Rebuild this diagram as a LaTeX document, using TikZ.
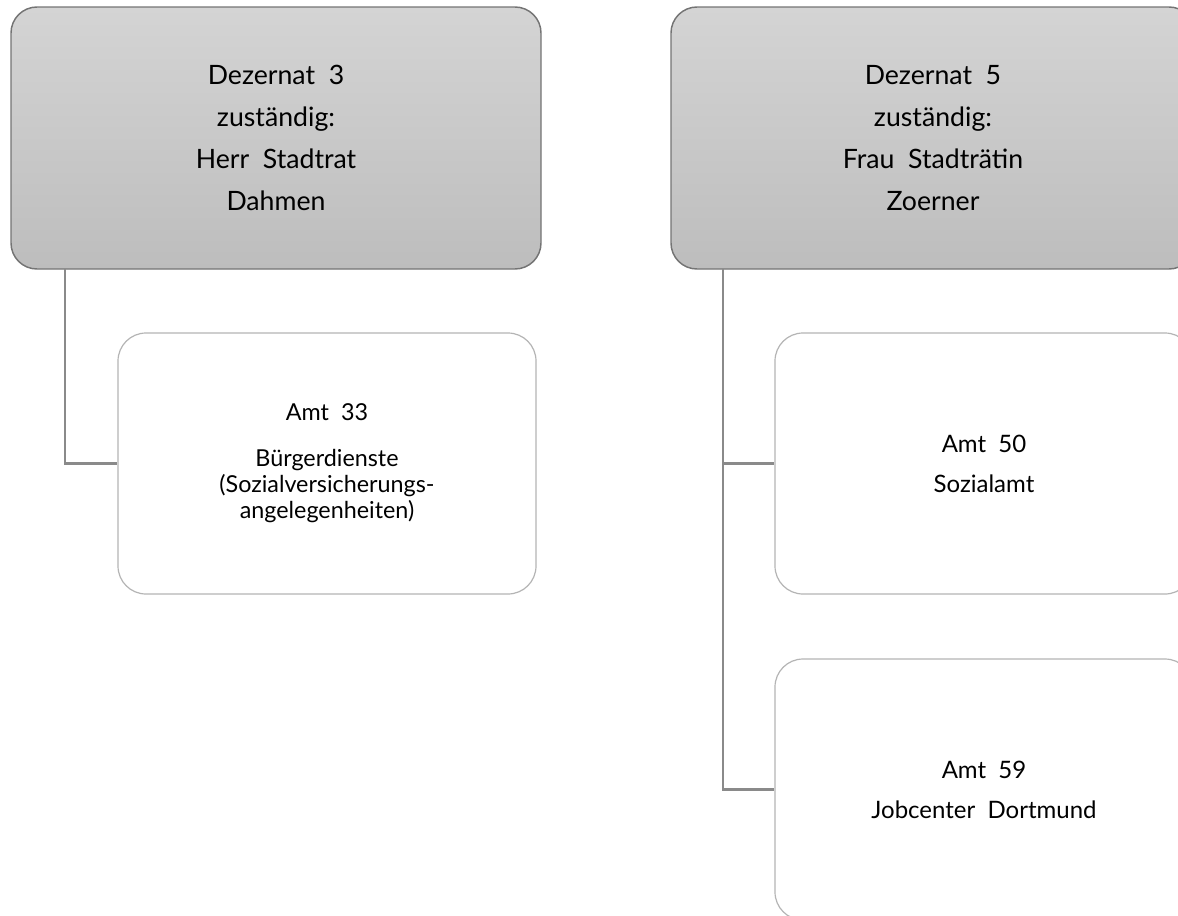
\documentclass[tikz,border=0pt]{standalone}
\usepackage{fontspec}
\setmainfont{Lato}[WordSpace=2]
\usetikzlibrary{calc}
\definecolor{headtop}{HTML}{D4D4D4}
\definecolor{headbot}{HTML}{BDBDBD}
\definecolor{headline}{HTML}{747474}
\definecolor{amtline}{HTML}{B4B4B4}
\definecolor{linkgray}{HTML}{8A8A8A}
\begin{document}
\begin{tikzpicture}[x=0.75pt,y=-0.75pt]
\tikzset{
  head/.style={rounded corners=19.5pt, draw=headline, line width=1.1pt,
    top color=headtop, bottom color=headbot, minimum width=397.5pt,
    minimum height=196.5pt, align=center, inner sep=0pt,
    font=\fontsize{20}{31.5}\selectfont},
  amtbox/.style={rounded corners=21pt, draw=amtline, line width=0.9pt,
    fill=white, minimum width=313.5pt, minimum height=195.75pt,
    align=center, inner sep=0pt, font=\fontsize{18}{30}\selectfont},
  link/.style={draw=linkgray, line width=2pt}
}
\useasboundingbox (0,0) rectangle (1178,915);
\clip (0,0) rectangle (1178,915);
% connector start points under the heads
\coordinate (c3) at (65,269);
\coordinate (c5) at (723,269);
% boxes
\node[head] (d3) at (276,138) {Dezernat 3\\zuständig:\\Herr Stadtrat\\Dahmen};
\node[head, minimum width=393pt] (d5) at (933,138) {Dezernat 5\\zuständig:\\Frau Stadträtin\\Zoerner};
\node[amtbox, font=\fontsize{17.5}{19.5}\selectfont] (a33) at (327,463.5)
  {Amt 33\\[15pt]Bürgerdienste\\(Sozialversicherungs-\\angelegenheiten)};
\node[amtbox] (a50) at (984,463.5) {Amt 50\\Sozialamt};
\node[amtbox] (a59) at (984,789.5) {Amt 59\\Jobcenter Dortmund};
\draw[link] (c3) |- (a33.west);
\draw[link] (c5) |- (a50.west);
\draw[link] (c5) |- (a59.west);
\end{tikzpicture}
\end{document}
